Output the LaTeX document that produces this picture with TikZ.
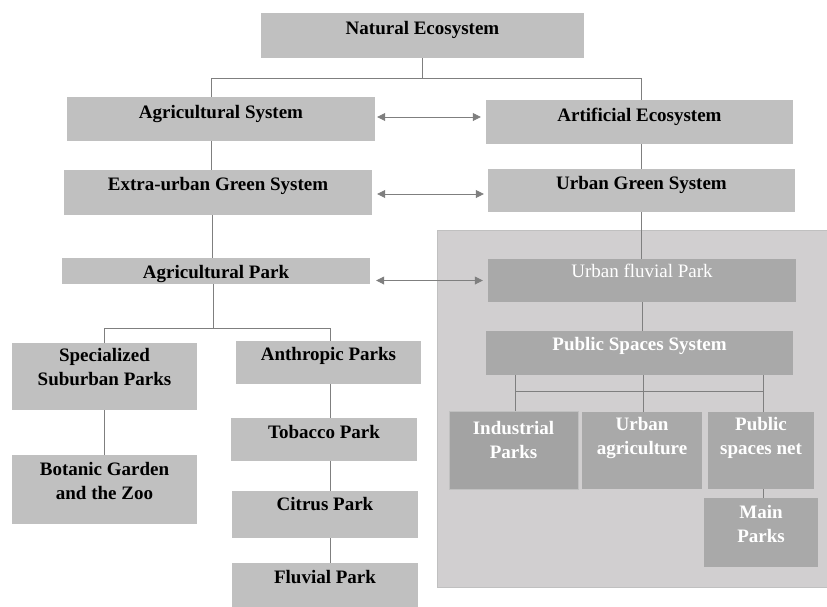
\documentclass[tikz,border=0pt]{standalone}
\usepackage{fontspec}
\setmainfont{Liberation Serif}
\usetikzlibrary{arrows.meta, positioning}
\definecolor{boxgray}{HTML}{C0C0C0}
\definecolor{dkbox}{HTML}{A9A9A9}
\definecolor{indbox}{HTML}{A3A3A3}
\definecolor{panelgray}{HTML}{D1CFD0}
\definecolor{linegray}{HTML}{7F7F7F}
\tikzset{
    box/.style={fill=boxgray, inner sep=0pt},
    dbox/.style={fill=dkbox, inner sep=0pt},
    txt/.style={inner sep=0pt, align=center, font=\fontsize{19}{24}\selectfont\bfseries},
    wtxt/.style={txt, text=white},
    link/.style={draw=linegray, line width=0.8pt},
    dbl/.style={link, <->}
}

\begin{document}
\begin{tikzpicture}[x=1pt, y=-1pt, >={Triangle[length=8pt,width=8pt]}]
    \useasboundingbox (0,0) rectangle (827,606);
    % urban panel
    \filldraw[fill=panelgray, draw=boxgray] (437,230) rectangle (832,587);

    % upper levels
    \node[box, minimum width=323pt, minimum height=45pt] (nat) at (422.5,35.5) {};
    \node[txt, below=8pt of nat.north] (natt) {Natural Ecosystem};
    \node[box, minimum width=308pt, minimum height=44pt] (agr) at (221,119) {};
    \node[txt, below=8pt of agr.north] (agrt) {Agricultural System};
    \node[box, minimum width=307pt, minimum height=44pt] (art) at (639.5,122) {};
    \node[txt, below=8pt of art.north] (artt) {Artificial Ecosystem};
    \node[box, minimum width=308pt, minimum height=45pt] (ext) at (218,192.5) {};
    \node[txt, below=7pt of ext.north] (extt) {Extra-urban Green System};
    \node[box, minimum width=307pt, minimum height=43pt] (ugs) at (641.5,190.5) {};
    \node[txt, below=7pt of ugs.north] (ugst) {Urban Green System};
    \node[box, minimum width=308pt, minimum height=26pt] (apk) at (216,271) {};
    \node[txt, below=7pt of apk.north] (apkt) {Agricultural Park};

    % agricultural side
    \node[box, minimum width=185pt, minimum height=67pt] (ssp) at (104.5,376.5) {};
    \node[txt, below=5pt of ssp.north] (sspt) {Specialized\\Suburban Parks};
    \node[box, minimum width=185pt, minimum height=69pt] (bot) at (104.5,489.5) {};
    \node[txt, below=7pt of bot.north] (bott) {Botanic Garden\\and the Zoo};
    \node[box, minimum width=185pt, minimum height=43pt] (anp) at (328.5,362.5) {};
    \node[txt, below=6pt of anp.north] (anpt) {Anthropic Parks};
    \node[box, minimum width=186pt, minimum height=43pt] (tob) at (324,439.5) {};
    \node[txt, below=7pt of tob.north] (tobt) {Tobacco Park};
    \node[box, minimum width=186pt, minimum height=47pt] (cit) at (325,514.5) {};
    \node[txt, below=6pt of cit.north] (citt) {Citrus Park};
    \node[box, minimum width=186pt, minimum height=47pt] (flu) at (325,586.5) {};
    \node[txt, below=7pt of flu.north] (flut) {Fluvial Park};

    % urban side
    \node[dbox, minimum width=308pt, minimum height=43pt] (ufp) at (642,280.5) {};
    \node[wtxt, below=5pt of ufp.north, font=\fontsize{19}{24}\selectfont] (ufpt) {Urban fluvial Park};
    \node[dbox, minimum width=307pt, minimum height=44pt] (pss) at (639.5,353) {};
    \node[wtxt, below=6pt of pss.north] (psst) {Public Spaces System};
    \node[dbox, fill=indbox, draw=boxgray, minimum width=129pt, minimum height=78pt] (ind) at (513.5,450) {};
    \node[wtxt, below=10pt of ind.north] (indt) {Industrial\\Parks};
    \node[dbox, minimum width=120pt, minimum height=77pt] (uag) at (642,450.5) {};
    \node[wtxt, below=5pt of uag.north] (uagt) {Urban\\agriculture};
    \node[dbox, minimum width=106pt, minimum height=77pt] (psn) at (761,450.5) {};
    \node[wtxt, below=5pt of psn.north] (psnt) {Public\\spaces net};
    \node[dbox, minimum width=114pt, minimum height=69pt] (mpk) at (761,532.5) {};
    \node[wtxt, below=7pt of mpk.north] (mpkt) {Main\\Parks};

    % tree links
    \draw[link] (nat.south) -- ++(0,20) coordinate (bt);
    \draw[link] ([xshift=-10pt]agr.north) |- (bt) -| ([xshift=1.5pt]art.north);
    \draw[link] ([xshift=-10pt]agr.south) -- ([xshift=-10pt]agr.south |- ext.north);
    \draw[link] ([xshift=-6pt]ext.south) -- ([xshift=-6pt]ext.south |- apk.north);
    \draw[link] ([xshift=-3pt]apk.south) -- ++(0,44) coordinate (lb);
    \draw[link] (ssp.north) |- (lb) -| ([xshift=2pt]anp.north);
    \draw[link] (ssp.south) -- (bot.north);
    \draw[link] ([xshift=2pt]anp.south) -- ([xshift=2pt]anp.south |- tob.north);
    \draw[link] ([xshift=2pt]anp.south |- tob.south) -- ([xshift=2pt]anp.south |- cit.north);
    \draw[link] ([xshift=2pt]anp.south |- cit.south) -- ([xshift=2pt]anp.south |- flu.north);
    \draw[link] (ugs.north) -- (ugs.north |- art.south);
    \draw[link] (ugs.south) -- (ugs.south |- ufp.north);
    \draw[link] (ufp.south) -- (ufp.south |- pss.north);
    \draw[link] ([xshift=1.5pt]ind.north) -- ([xshift=1.5pt]ind.north |- pss.south);
    \draw[link] ([xshift=1pt]uag.north) -- ([xshift=1pt]uag.north |- pss.south);
    \draw[link] ([xshift=2pt]psn.north) -- ([xshift=2pt]psn.north |- pss.south);
    \draw[link] ([xshift=1.5pt,yshift=-16pt]pss.south -| ind.north) -- ([xshift=2pt,yshift=-16pt]pss.south -| psn.north);
    \draw[link] ([xshift=2pt]psn.south) -- ([xshift=2pt]mpk.north);

    % two-way links
    \draw[dbl] ([xshift=2pt,yshift=2pt]agr.east) -- ([xshift=-5pt,yshift=2pt]agr.east -| art.west);
    \draw[dbl] ([xshift=5pt,yshift=-1.5pt]ext.east) -- ([xshift=-4pt,yshift=-1.5pt]ext.east -| ugs.west);
    \draw[dbl] ([xshift=6pt]apk.east |- ufp.west) -- ([xshift=-5pt]ufp.west);
\end{tikzpicture}
\end{document}
